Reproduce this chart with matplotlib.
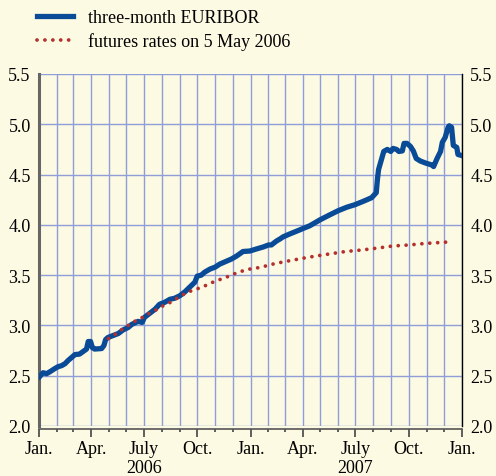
import matplotlib
matplotlib.use("Agg")
import matplotlib.pyplot as plt
import matplotlib.dates as mdates
import pandas as pd

plt.rcParams["font.family"] = ["Liberation Serif", "DejaVu Serif"]
plt.rcParams["font.size"] = 13

# three-month EURIBOR
euribor_dates = [
    "2006-01-02", "2006-01-08", "2006-01-14", "2006-01-20", "2006-01-28",
    "2006-02-03", "2006-02-09", "2006-02-15", "2006-02-20", "2006-02-26",
    "2006-03-04", "2006-03-12", "2006-03-18", "2006-03-24", "2006-03-27",
    "2006-03-31", "2006-04-03", "2006-04-07", "2006-04-19", "2006-04-23",
    "2006-04-26", "2006-04-30", "2006-05-09", "2006-05-18", "2006-05-26",
    "2006-06-04", "2006-06-10", "2006-06-21", "2006-06-28", "2006-07-02",
    "2006-07-11", "2006-07-20", "2006-07-28", "2006-08-06", "2006-08-15",
    "2006-08-23", "2006-09-01", "2006-09-10", "2006-09-18", "2006-09-27",
    "2006-10-01", "2006-10-08", "2006-10-14", "2006-10-23", "2006-11-01",
    "2006-11-09", "2006-11-21", "2006-11-29", "2006-12-08", "2006-12-19",
    "2006-12-31", "2007-01-11", "2007-01-23", "2007-02-01", "2007-02-06",
    "2007-02-15", "2007-02-21", "2007-02-26", "2007-03-10", "2007-03-27",
    "2007-04-02", "2007-04-13", "2007-05-01", "2007-05-18", "2007-06-01",
    "2007-06-16", "2007-06-30", "2007-07-15", "2007-07-29", "2007-08-06",
    "2007-08-08", "2007-08-10", "2007-08-15", "2007-08-19", "2007-08-25",
    "2007-08-31", "2007-09-04", "2007-09-10", "2007-09-14", "2007-09-20",
    "2007-09-23", "2007-09-28", "2007-10-04", "2007-10-09", "2007-10-14",
    "2007-10-21", "2007-10-30", "2007-11-10", "2007-11-13", "2007-11-19",
    "2007-11-25", "2007-11-28", "2007-12-03", "2007-12-08", "2007-12-10",
    "2007-12-14", "2007-12-17", "2007-12-23", "2007-12-25", "2007-12-31",
]
euribor = [
    2.49, 2.53, 2.52, 2.54, 2.57,
    2.59, 2.60, 2.62, 2.65, 2.68,
    2.71, 2.715, 2.74, 2.765, 2.84,
    2.84, 2.78, 2.765, 2.77, 2.80,
    2.86, 2.88, 2.90, 2.92, 2.955,
    2.98, 3.01, 3.04, 3.03, 3.08,
    3.12, 3.16, 3.21, 3.23, 3.26,
    3.27, 3.295, 3.335, 3.38, 3.43,
    3.49, 3.50, 3.53, 3.56, 3.58,
    3.61, 3.64, 3.66, 3.69, 3.735,
    3.74, 3.76, 3.78, 3.80, 3.80,
    3.84, 3.86, 3.88, 3.91, 3.95,
    3.965, 3.99, 4.05, 4.10, 4.14,
    4.175, 4.20, 4.235, 4.27, 4.32,
    4.45, 4.55, 4.65, 4.73, 4.75,
    4.73, 4.76, 4.75, 4.73, 4.735,
    4.81, 4.81, 4.78, 4.735, 4.66,
    4.635, 4.615, 4.595, 4.58, 4.66,
    4.73, 4.82, 4.87, 4.97, 4.985,
    4.97, 4.79, 4.77, 4.70, 4.69,
]

# futures rates on 5 May 2006
futures_dates = [
    "2006-05-01", "2006-05-12", "2006-05-23", "2006-06-04", "2006-06-15",
    "2006-06-27", "2006-07-10", "2006-07-22", "2006-08-03", "2006-08-16",
    "2006-08-27", "2006-09-08", "2006-09-21", "2006-10-04", "2006-10-17",
    "2006-10-30", "2006-11-11", "2006-11-25", "2006-12-07", "2006-12-20",
    "2007-01-03", "2007-01-16", "2007-01-30", "2007-02-12", "2007-03-11",
    "2007-04-08", "2007-05-05", "2007-06-14", "2007-07-12", "2007-08-09",
    "2007-09-04", "2007-10-02", "2007-10-29", "2007-11-26", "2007-12-10",
]
futures = [
    2.87, 2.91, 2.955, 3.00, 3.04,
    3.075, 3.12, 3.155, 3.195, 3.23,
    3.27, 3.31, 3.345, 3.37, 3.40,
    3.435, 3.46, 3.49, 3.52, 3.545,
    3.565, 3.575, 3.595, 3.615, 3.645,
    3.675, 3.70, 3.735, 3.75, 3.77,
    3.79, 3.80, 3.815, 3.825, 3.83,
]

quarter_labels = ["Jan.", "Apr.", "July\n2006", "Oct.", "Jan.",
                  "Apr.", "July\n2007", "Oct.", "Jan."]

bg = "#fdfae4"
blue = "#0a4b97"
red = "#b4302c"
grid = "#8f9dd8"

fig = plt.figure(figsize=(4.96, 4.77), dpi=100, facecolor=bg)
ax = fig.add_axes([39 / 496, 50 / 477, 423 / 496, 352 / 477], facecolor=bg)

ax.plot(pd.to_datetime(euribor_dates), euribor, color=blue, lw=3.8,
        solid_joinstyle="round", label="three-month EURIBOR", zorder=3)
ax.plot(pd.to_datetime(futures_dates), futures, color=red, lw=2.7,
        linestyle=(0, (0.01, 2.1)), dash_capstyle="round",
        label="futures rates on 5 May 2006", zorder=4)

ax.set_xlim(pd.Timestamp("2006-01-01"), pd.Timestamp("2008-01-01"))
ax.set_ylim(2.0, 5.5)
ax.set_yticks([2.0, 2.5, 3.0, 3.5, 4.0, 4.5, 5.0, 5.5])
ax.yaxis.set_major_formatter(matplotlib.ticker.FormatStrFormatter("%.1f"))

qticks = pd.date_range("2006-01-01", "2008-01-01", freq="QS")
ax.set_xticks(qticks)
ax.set_xticklabels(quarter_labels, linespacing=0.92)
ax.xaxis.set_minor_locator(mdates.MonthLocator())

ax.grid(True, which="both", axis="x", color=grid, lw=1.0)
ax.grid(True, which="major", axis="y", color=grid, lw=1.0)
ax.set_axisbelow(True)

ax.tick_params(axis="y", which="both", length=0, pad=6, labelsize=13,
               left=True, right=True, labelleft=True, labelright=True)
ax.tick_params(axis="x", which="major", length=6, width=1.2, color="#444444",
               pad=2, labelsize=13)
ax.tick_params(axis="x", which="minor", length=2.5, width=1.2, color="#444444")
for t, d in zip(ax.xaxis.get_major_ticks(), qticks):
    if d.month == 1:
        t.tick1line.set_markersize(9)

ax.spines["top"].set_visible(False)
ax.spines["left"].set_color("#666666")
ax.spines["left"].set_linewidth(2.2)
ax.spines["right"].set_color("black")
ax.spines["right"].set_linewidth(1.0)
ax.spines["bottom"].set_color("#555555")
ax.spines["bottom"].set_linewidth(1.2)
ax.spines["bottom"].set_position(("outward", 2))

fig.legend(loc="upper left", bbox_to_anchor=(37 / 496, 1 - 10 / 477),
           frameon=False, fontsize=13, handlelength=2.0, handletextpad=0.85,
           labelspacing=0.35, borderpad=0, borderaxespad=0)

fig.savefig("out.png", dpi=100, facecolor=bg)
